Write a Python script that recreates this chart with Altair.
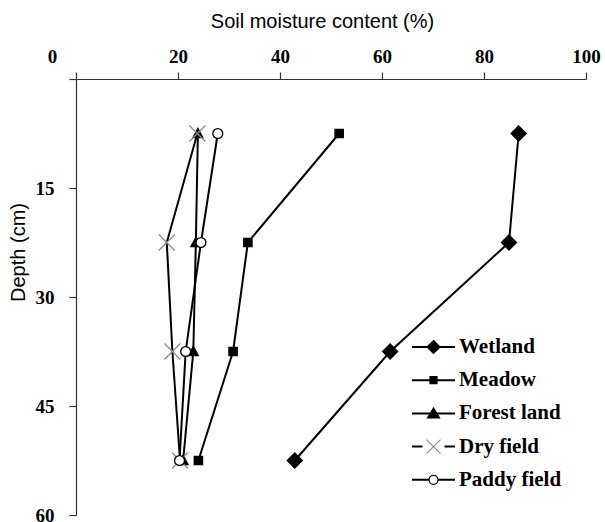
import altair as alt
import pandas as pd

# ---- data ----
series_names = ["Wetland", "Meadow", "Forest land", "Dry field", "Paddy field"]
depth_cm = [7.5, 22.5, 37.5, 52.5]
wetland = [86.8, 84.9, 61.6, 42.9]
meadow = [51.6, 33.7, 30.8, 24.0]
forest_land = [23.9, 23.5, 23.0, 21.0]
dry_field = [23.8, 17.8, 18.9, 20.4]
paddy_field = [27.8, 24.5, 21.5, 20.3]
x_ticks = [0, 20, 40, 60, 80, 100]
y_ticks = [0, 15, 30, 45, 60]

series_values = [wetland, meadow, forest_land, dry_field, paddy_field]
rows = []
for name, vals in zip(series_names, series_values):
    for d, v in zip(depth_cm, vals):
        rows.append({"series": name, "depth": d, "moisture": v})
df = pd.DataFrame(rows)

# ---- marker styles ----
marker_paths = [
    "M0,-0.94L0.94,0L0,0.94L-0.94,0Z",
    "M-0.52,-0.52H0.52V0.52H-0.52Z",
    "M0,-0.65L0.62,0.5L-0.62,0.5Z",
    "M-1,-1L1,1M-1,1L1,-1",
    "M0.62,0A0.62,0.62,0,1,1,-0.62,0A0.62,0.62,0,1,1,0.62,0Z",
]
marker_fill = ["black", "black", "black", "transparent", "white"]
marker_stroke = ["black", "black", "black", "#8c8c8c", "black"]

legend_line_paths = [
    "M-2.15,0H2.15",
    "M-2.15,0H2.15",
    "M-2.15,0H2.15",
    "M-2.15,0H-1.1M1.1,0H2.15",
    "M-2.15,0H2.15",
]
legend_marker_paths = [
    "M0,-0.65L0.65,0L0,0.65L-0.65,0Z",
    "M-0.35,-0.35H0.35V0.35H-0.35Z",
    "M0,-0.55L0.6,0.45L-0.6,0.45Z",
    "M-0.7,-0.7L0.7,0.7M-0.7,0.7L0.7,-0.7",
    "M0.45,0A0.45,0.45,0,1,1,-0.45,0A0.45,0.45,0,1,1,0.45,0Z",
]

SERIF = "Liberation Serif"
SANS = "Liberation Sans"

x_axis = alt.Axis(
    orient="top",
    values=x_ticks,
    title="Soil moisture content (%)",
    titleFont=SANS,
    titleFontSize=20,
    titleFontWeight="normal",
    titleColor="black",
    titleX=246,
    titleY=-58,
    titleBaseline="middle",
    titleAlign="center",
    labelFont=SERIF,
    labelFontWeight="bold",
    labelFontSize=19,
    labelColor="black",
    labelPadding=6,
    labelFlush=False,
    labelOverlap=False,
    labelOffset={"condition": {"test": "datum.value === 0", "value": -24}, "value": 0},
    tickSize=7,
    tickColor="#333333",
    tickWidth=1.2,
    domainColor="#333333",
    domainWidth=1.2,
    grid=False,
)

y_axis = alt.Axis(
    values=y_ticks,
    labelExpr="datum.value == 0 ? '' : datum.label",
    title="Depth (cm)",
    titleFont=SANS,
    titleFontSize=20,
    titleFontWeight="normal",
    titleColor="black",
    titleAngle=270,
    titleX=-57.5,
    titleY=173,
    titleBaseline="middle",
    titleAlign="center",
    labelFont=SERIF,
    labelFontWeight="bold",
    labelFontSize=19,
    labelColor="black",
    labelPadding=15,
    labelFlush=False,
    labelOverlap=False,
    tickSize=7,
    tickColor="#333333",
    tickWidth=1.2,
    domainColor="#333333",
    domainWidth=1.2,
    grid=False,
)

base = alt.Chart(df).encode(
    x=alt.X("moisture:Q", scale=alt.Scale(domain=[0, 100], nice=False, zero=False), axis=x_axis),
    y=alt.Y("depth:Q", scale=alt.Scale(domain=[0, 60], nice=False, reverse=True), axis=y_axis),
)

lines = base.mark_line(color="black", strokeWidth=2).encode(
    detail="series:N",
    order="depth:Q",
)

points = base.mark_point(filled=True, size=256, strokeWidth=1.3, opacity=1).encode(
    shape=alt.Shape("series:N", scale=alt.Scale(domain=series_names, range=marker_paths), legend=None),
    fill=alt.Fill("series:N", scale=alt.Scale(domain=series_names, range=marker_fill), legend=None),
    stroke=alt.Stroke("series:N", scale=alt.Scale(domain=series_names, range=marker_stroke), legend=None),
)

def make_legend(stroke_width, z, label_color):
    return alt.Legend(
        orient="none",
        legendX=346.5,
        legendY=257,
        padding=0,
        labelFont=SERIF,
        labelFontWeight="bold",
        labelFontSize=21,
        labelColor=label_color,
        labelOffset=14.5,
        symbolSize=400,
        symbolStrokeWidth=stroke_width,
        symbolOpacity=1,
        rowPadding=12.2,
        zindex=z,
    )

leg1 = make_legend(2, 1, "black")
legend_lines = base.transform_filter("datum.depth < 0").mark_point(filled=False, size=400, opacity=1).encode(
    shape=alt.Shape("series:N", scale=alt.Scale(domain=series_names, range=legend_line_paths), legend=leg1, title=None),
    stroke=alt.Stroke("series:N", scale=alt.Scale(domain=series_names, range=["black"] * 5), legend=leg1, title=None),
)

leg2 = make_legend(1.2, 2, "transparent")
legend_markers = base.transform_filter("datum.depth < 0").mark_point(filled=True, size=400, opacity=1).encode(
    shape=alt.Shape("series:N", scale=alt.Scale(domain=series_names, range=legend_marker_paths), legend=leg2, title=None),
    fill=alt.Fill("series:N", scale=alt.Scale(domain=series_names, range=marker_fill), legend=leg2, title=None),
    stroke=alt.Stroke("series:N", scale=alt.Scale(domain=series_names, range=marker_stroke), legend=leg2, title=None),
)

chart = (
    alt.layer(lines, points, legend_lines, legend_markers)
    .resolve_scale(shape="independent", fill="independent", stroke="independent")
    .resolve_legend(shape="independent", fill="independent", stroke="independent")
    .properties(
        width=510,
        height=436,
        padding={"left": 76, "top": 79, "right": 19, "bottom": 7},
        autosize=alt.AutoSizeParams(type="none"),
        background="white",
    )
    .configure_view(stroke=None)
)

chart.save("out.html", embed_options={"renderer": "svg", "actions": False})
